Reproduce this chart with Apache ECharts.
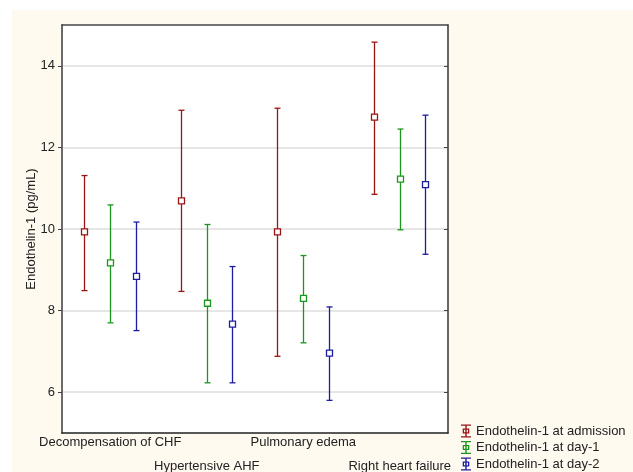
<!DOCTYPE html>
<html>
<head>
<meta charset="utf-8">
<script src="https://cdn.jsdelivr.net/npm/echarts@6/dist/echarts.min.js"></script>
<style>
html,body{margin:0;padding:0;background:#ffffff;}
#bg{position:absolute;left:12px;top:10px;width:621px;height:462px;background:#FFFAF0;}
#chart{position:absolute;left:0;top:0;width:633px;height:472px;}
</style>
</head>
<body>
<div id="bg"></div>
<div id="chart"></div>
<script>
const categories = ['Decompensation of CHF', 'Hypertensive AHF', 'Pulmonary edema', 'Right heart failure'];
const yTicks = [6, 8, 10, 12, 14];

const admissionMean = [9.93, 10.69, 9.93, 12.74];
const admissionLow  = [8.49, 8.47, 6.88, 10.85];
const admissionHigh = [11.31, 12.91, 12.96, 14.58];

const day1Mean = [9.17, 8.18, 8.30, 11.22];
const day1Low  = [7.70, 6.23, 7.21, 9.98];
const day1High = [10.59, 10.11, 9.35, 12.45];

const day2Mean = [8.84, 7.67, 6.96, 11.09];
const day2Low  = [7.51, 6.23, 5.80, 9.38];
const day2High = [10.17, 9.08, 8.09, 12.79];

const seriesNames = ['Endothelin-1 at admission', 'Endothelin-1 at day-1', 'Endothelin-1 at day-2'];
const seriesColors = ['#9a1414', '#1c961c', '#1c1ca0'];

function rows(mean, low, high) {
  return mean.map((m, i) => [i, low[i], m, high[i]]);
}

function makeRender(offset, color) {
  return function (params, api) {
    const c = api.value(0);
    const x = Math.round(api.coord([c, api.value(2)])[0] + offset) + 0.5;
    const yLo = api.coord([c, api.value(1)])[1];
    const yMid = api.coord([c, api.value(2)])[1];
    const yHi = api.coord([c, api.value(3)])[1];
    const st = { stroke: color, lineWidth: 1.3, fill: null };
    const cap = 3;
    const sq = 3;
    return {
      type: 'group',
      children: [
        { type: 'line', shape: { x1: x, y1: yHi, x2: x, y2: yLo }, style: st },
        { type: 'line', shape: { x1: x - cap, y1: yHi, x2: x + cap, y2: yHi }, style: st },
        { type: 'line', shape: { x1: x - cap, y1: yLo, x2: x + cap, y2: yLo }, style: st },
        { type: 'rect', shape: { x: x - sq, y: yMid - sq, width: sq * 2, height: sq * 2 },
          style: { stroke: color, lineWidth: 1.3, fill: '#ffffff' } }
      ]
    };
  };
}

const legendIcon = 'path://M0,0H10V1.3H5.7V4H8.3V9H5.7V11.7H10V13H0V11.7H4.3V9H1.7V4H4.3V1.3H0Z' +
  'M3,5.2V7.8H4.3V5.2ZM5.7,5.2V7.8H7V5.2Z';

const data = [
  rows(admissionMean, admissionLow, admissionHigh),
  rows(day1Mean, day1Low, day1High),
  rows(day2Mean, day2Low, day2High)
];
const offsets = [-26, 0, 25.5];

const font = 'Liberation Sans, Arial, sans-serif';

const chart = echarts.init(document.getElementById('chart'), null, { renderer: 'canvas' });
chart.setOption({
  backgroundColor: 'transparent',
  animation: false,
  textStyle: { fontFamily: font },
  grid: { left: 62, right: 185, top: 25, bottom: 39, show: true, backgroundColor: '#ffffff', borderWidth: 0,
          containLabel: false, outerBoundsMode: 'none' },
  legend: {
    orient: 'vertical',
    left: 461,
    top: 424.5,
    padding: 0,
    itemWidth: 10,
    itemHeight: 13,
    itemGap: 3.5,
    textStyle: { fontSize: 13, color: '#222', fontFamily: font },
    data: seriesNames.map((n, i) => ({ name: n, icon: legendIcon, itemStyle: { color: seriesColors[i] } }))
  },
  xAxis: [
    {
      type: 'category',
      data: categories,
      position: 'bottom',
      axisLine: { lineStyle: { color: '#222', width: 1.5 } },
      axisTick: { inside: true, alignWithLabel: true, length: 4, lineStyle: { color: '#444' } },
      axisLabel: {
        interval: 0,
        fontSize: 13,
        color: '#222',
        lineHeight: 24,
        margin: -3,
        formatter: (v, i) => (i % 2 === 1 ? '\n' + v : v)
      },
      splitLine: { show: false }
    },
    {
      type: 'category',
      data: categories,
      position: 'top',
      axisLine: { lineStyle: { color: '#444', width: 1.5 } },
      axisTick: { inside: true, alignWithLabel: true, length: 4, lineStyle: { color: '#444' } },
      axisLabel: { show: false },
      splitLine: { show: false }
    }
  ],
  yAxis: [
    {
      type: 'value',
      min: 5,
      max: 15,
      position: 'left',
      name: 'Endothelin-1 (pg/mL)',
      nameLocation: 'middle',
      nameGap: 24,
      nameMoveOverlap: false,
      nameTextStyle: { fontSize: 13, color: '#222', fontFamily: font },
      axisLine: { show: true, lineStyle: { color: '#6a6a6a', width: 2 } },
      axisTick: { show: true, length: 4, customValues: yTicks, lineStyle: { color: '#444' } },
      axisLabel: { fontSize: 13, color: '#222', margin: 7, customValues: yTicks },
      splitLine: { show: true, lineStyle: { color: '#dedede', width: 1.5 } }
    },
    {
      type: 'value',
      min: 5,
      max: 15,
      position: 'right',
      axisLine: { show: true, lineStyle: { color: '#333', width: 1.5 } },
      axisTick: { show: true, inside: true, length: 4, customValues: yTicks, lineStyle: { color: '#444' } },
      axisLabel: { show: false },
      splitLine: { show: false }
    }
  ],
  series: seriesNames.map((n, i) => ({
    name: n,
    type: 'custom',
    xAxisIndex: 0,
    yAxisIndex: 0,
    itemStyle: { color: seriesColors[i] },
    encode: { x: 0, y: [1, 2, 3] },
    renderItem: makeRender(offsets[i], seriesColors[i]),
    data: data[i]
  }))
});
</script>
</body>
</html>
